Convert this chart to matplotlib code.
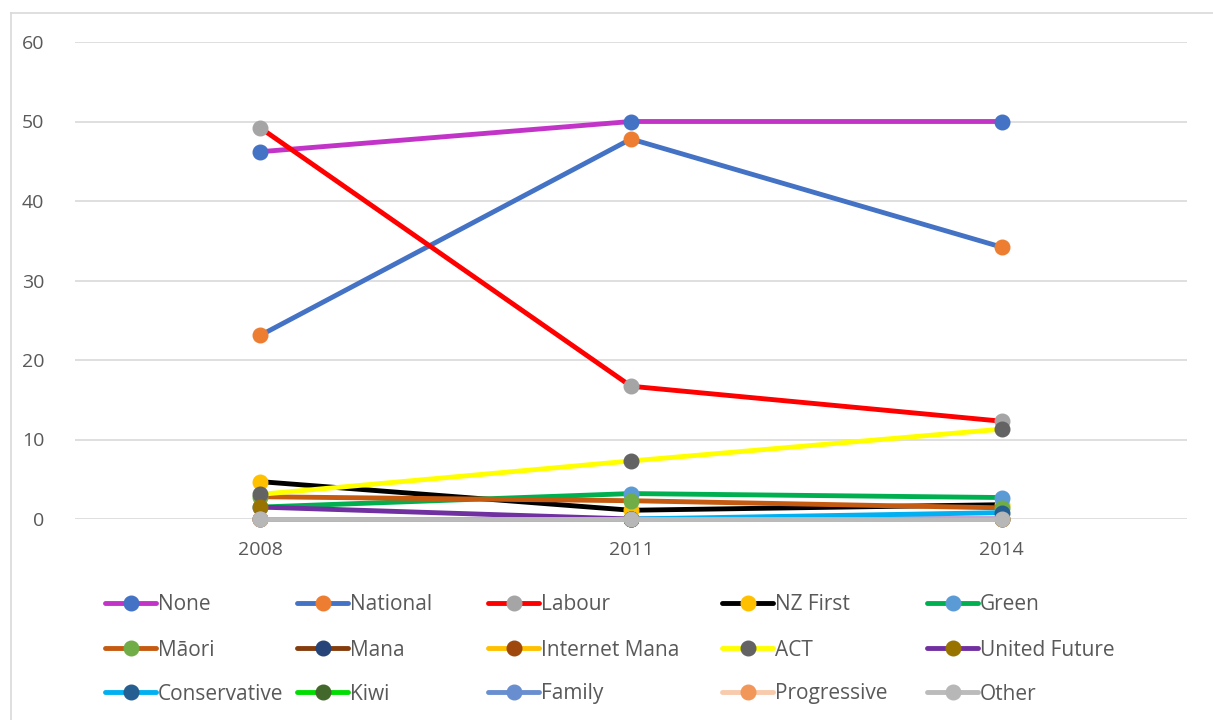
import numpy as np
import matplotlib
matplotlib.use("Agg")
import matplotlib.pyplot as plt
from matplotlib.lines import Line2D

years = ["2008", "2011", "2014"]

nan = np.nan
none_v = [46.2, 50.0, 50.0]
national = [23.1, 47.8, 34.2]
labour = [49.2, 16.7, 12.3]
nz_first = [4.7, 1.1, 1.8]
green = [1.5, 3.2, 2.7]
maori = [2.8, 2.3, 1.4]
mana = [nan, 0.0, nan]
internet_mana = [nan, nan, 0.0]
act = [3.1, 7.3, 11.3]
united_future = [1.5, 0.0, 0.0]
conservative = [nan, 0.0, 0.8]
kiwi = [0.0, 0.0, nan]
family = [0.0, nan, nan]
progressive = [0.0, nan, nan]
other = [0.0, 0.0, 0.0]

names = ["None", "National", "Labour", "NZ First", "Green",
         "Māori", "Mana", "Internet Mana", "ACT", "United Future",
         "Conservative", "Kiwi", "Family", "Progressive", "Other"]
series = [none_v, national, labour, nz_first, green,
          maori, mana, internet_mana, act, united_future,
          conservative, kiwi, family, progressive, other]
line_colors = ["#C234C8", "#4472C4", "#FF0000", "#000000", "#00B050",
               "#C55A11", "#843C0C", "#FFC000", "#FFFF00", "#7030A0",
               "#00B0F0", "#00DD00", "#6A8FD0", "#F8CBAD", "#BBBBBB"]
marker_colors = ["#4472C4", "#ED7D31", "#A5A5A5", "#FFC000", "#5B9BD5",
                 "#70AD47", "#264478", "#9E480E", "#636363", "#997300",
                 "#255E91", "#43682B", "#698ED0", "#F1975A", "#B7B7B7"]

plt.rcParams['font.family'] = ['Open Sans', 'DejaVu Sans']

W, H = 1213, 720
fig = plt.figure(figsize=(W / 100, H / 100), dpi=100)
ax = fig.add_axes([75 / W, 1 - 519 / H, (1187 - 75) / W, (519 - 42) / H])

x = np.arange(len(years))
for i, (name, vals) in enumerate(zip(names, series)):
    ax.plot(x, vals, color=line_colors[i], lw=3.5, marker='o', ms=10.5,
            markerfacecolor=marker_colors[i], markeredgecolor=marker_colors[i],
            solid_capstyle='round', zorder=3 + i, clip_on=False)

ax.set_xlim(-0.5, 2.5)
ax.set_ylim(0, 60)
ax.set_yticks(range(0, 61, 10))
ax.set_xticks(x)
ax.set_xticklabels(years)
ax.grid(axis='y', color='#D9D9D9', lw=1.2, zorder=0)
for s in ax.spines.values():
    s.set_visible(False)
ax.tick_params(length=0, labelsize=14, colors='#595959')
ax.tick_params(axis='x', pad=16)
ax.tick_params(axis='y', pad=22)

# legend, laid out row by row like the Excel one
col_x = [105, 297, 488, 722, 927]
row_y = [603, 648, 692]
for i, name in enumerate(names):
    r, c = divmod(i, 5)
    x0 = col_x[c] / W
    x1 = (col_x[c] + 51) / W
    ym = 1 - row_y[r] / H
    fig.add_artist(Line2D([x0, x1], [ym, ym], color=line_colors[i], lw=3.5,
                          solid_capstyle='round', transform=fig.transFigure))
    fig.add_artist(Line2D([(x0 + x1) / 2], [ym], marker='o', ms=10.5, lw=0,
                          markerfacecolor=marker_colors[i],
                          markeredgecolor=marker_colors[i],
                          transform=fig.transFigure))
    fig.text((col_x[c] + 53) / W, ym - 2 / H, name, fontsize=15, color='#595959',
             va='center', ha='left')

# chart frame
fig.add_artist(Line2D([11 / W, 1], [1 - 13 / H, 1 - 13 / H],
                      color='#D9D9D9', lw=1.2, transform=fig.transFigure))
fig.add_artist(Line2D([11 / W, 11 / W], [1 - 13 / H, 0],
                      color='#D9D9D9', lw=1.2, transform=fig.transFigure))

fig.savefig("out.png", dpi=100)
